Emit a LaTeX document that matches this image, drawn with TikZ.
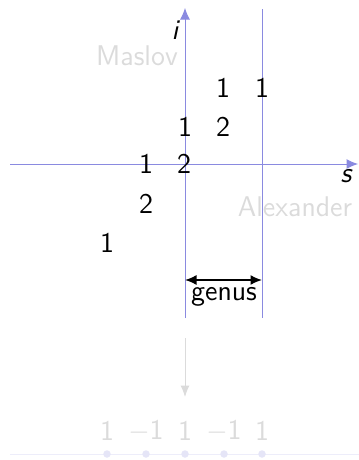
\documentclass[tikz,border=0pt]{standalone}
\usetikzlibrary{arrows.meta}
\definecolor{axisblue}{rgb}{0.54,0.54,0.88}
\definecolor{fadegray}{rgb}{0.86,0.86,0.86}
\definecolor{dotlav}{rgb}{0.90,0.90,0.97}
\definecolor{linelav}{rgb}{0.93,0.93,0.98}
\begin{document}
\begin{tikzpicture}[x=0.4pt,y=-0.4pt,font=\sffamily\fontsize{11.4}{13}\selectfont,
  axis/.style={draw=axisblue,line width=0.4pt},
  axistip/.style={-{Latex[length=4.6pt,width=4pt]}},
  num/.style={inner sep=0pt,text=black},
  faded/.style={inner sep=0pt,text=fadegray},
  lbl/.style={inner sep=0pt,text=black},
  dotc/.style={circle,fill=dotlav,inner sep=0pt,minimum size=3pt}]
\useasboundingbox (0,0) rectangle (359,460);
% axes
\coordinate (sL) at (10,164);
\coordinate (sR) at (358,164);
\coordinate (iB) at (185,318);
\coordinate (iT) at (185,8);
\coordinate (gT) at (262,9);
\coordinate (gB) at (262,318);
\draw[axis,axistip,axisblue] (sL) -- (sR);
\draw[axis,axistip,axisblue] (iB) -- (iT);
\draw[axis] (gT) -- (gB);
% labels
\node[lbl] (ilab) at (175,30) {\itshape i};
\node[lbl] (slab) at (346,176) {\itshape s};
\node[faded] (mas) at (137,56) {Maslov};
\node[faded] (alex) at (295,207) {Alexander};
% numbers
\node[num] (n1) at (223,88) {1};
\node[num] (n2) at (262,88) {1};
\node[num] (n3) at (185,127) {1};
\node[num] (n4) at (223,127) {2};
\node[num] (n5) at (146,164) {1};
\node[num] (n6) at (184,164) {2};
\node[num] (n7) at (146,204) {2};
\node[num] (n8) at (107,243) {1};
% genus
\coordinate (ga) at (185,280);
\coordinate (gb) at (262,280);
\draw[{Latex[length=4.6pt,width=4pt]}-{Latex[length=4.6pt,width=4pt]},line width=0.6pt] (ga) -- (gb);
\node[lbl] (genus) at (224,297) {genus};
% down arrow
\coordinate (dT) at (185,338);
\coordinate (dB) at (185,397);
\draw[fadegray,-{Latex[length=4.6pt,width=3.6pt]}] (dT) -- (dB);
% bottom line
\coordinate (bL) at (10,454);
\coordinate (bR) at (359,454);
\draw[linelav] (bL) -- (bR);
\foreach \x/\n in {107/a,146/b,185/c,224/d,262/e}{
  \node[dotc] (d\n) at (\x,454) {};
}
\node[faded] (b1) at (107,431) {1};
\node[faded] (b2) at (146,431) {$-$1};
\node[faded] (b3) at (185,431) {1};
\node[faded] (b4) at (224,431) {$-$1};
\node[faded] (b5) at (262,431) {1};
\end{tikzpicture}
\end{document}
